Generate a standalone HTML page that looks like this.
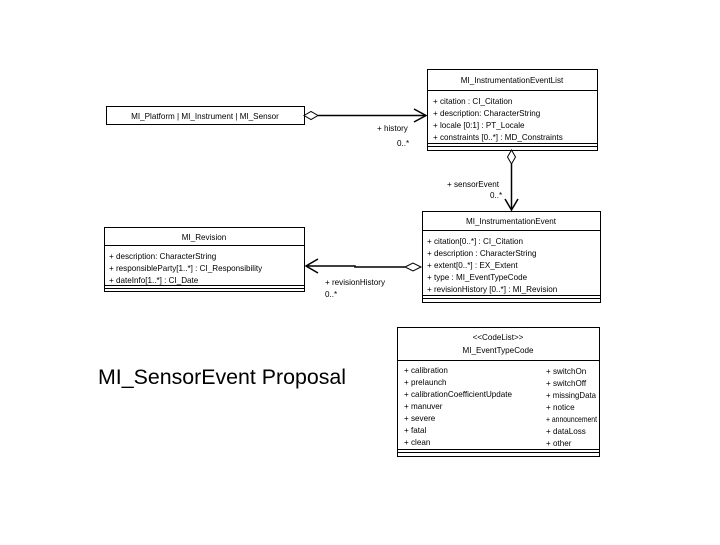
<!DOCTYPE html>
<html><head><style>
body{margin:0;background:#fff;width:720px;height:540px;overflow:hidden;font-family:"Liberation Sans",sans-serif;}
</style></head><body>
<svg width="720" height="540" xmlns="http://www.w3.org/2000/svg" font-family="Liberation Sans, sans-serif" font-size="8.1" fill="#000">
<g stroke="#000" stroke-width="1" fill="#fff">
<rect x="427.5" y="69.5" width="170" height="81"/>
<line x1="427" y1="90.5" x2="597" y2="90.5"/>
<line x1="427" y1="143.5" x2="597" y2="143.5"/>
<line x1="427" y1="146.5" x2="597" y2="146.5"/>
<rect x="106.5" y="106.5" width="198" height="18"/>
<rect x="422.5" y="211.5" width="178" height="91"/>
<line x1="422" y1="230.5" x2="600" y2="230.5"/>
<line x1="422" y1="295.5" x2="600" y2="295.5"/>
<line x1="422" y1="298.5" x2="600" y2="298.5"/>
<rect x="104.5" y="227.5" width="200" height="64"/>
<line x1="104" y1="245.5" x2="304" y2="245.5"/>
<line x1="104" y1="285.5" x2="304" y2="285.5"/>
<line x1="104" y1="288.5" x2="304" y2="288.5"/>
<rect x="397.5" y="327.5" width="202" height="129"/>
<line x1="397" y1="360.5" x2="599" y2="360.5"/>
<line x1="397" y1="449.5" x2="599" y2="449.5"/>
<line x1="397" y1="452.5" x2="599" y2="452.5"/>
<line x1="318" y1="115.5" x2="426" y2="115.5" stroke-width="1.5"/>
<polygon points="304,115.5 311,111.5 318,115.5 311,119.5"/>
<polyline points="414,109 426,115.5 414,122" fill="none" stroke-width="1.5"/>
<line x1="511.5" y1="164" x2="511.5" y2="210" stroke-width="1.5"/>
<polygon points="511.5,150 515.5,157 511.5,164 507.5,157"/>
<polyline points="505,199 511.5,210 518,199" fill="none" stroke-width="1.5"/>
<polyline points="405,267 355,267 355,266 306,266" fill="none" stroke-width="1.5"/>
<polygon points="405,267 413,263 421,267 413,271"/>
<polyline points="318,259 306,266 318,273" fill="none" stroke-width="1.5"/>
</g>
<g text-anchor="middle">
<text x="512" y="83">MI_InstrumentationEventList</text>
<text x="205" y="119">MI_Platform | MI_Instrument | MI_Sensor</text>
<text x="511" y="224">MI_InstrumentationEvent</text>
<text x="204" y="240">MI_Revision</text>
<text x="498" y="340">&lt;&lt;CodeList&gt;&gt;</text>
<text x="498" y="353">MI_EventTypeCode</text>
</g>
<text x="433" y="104">+ citation : CI_Citation</text>
<text x="433" y="116">+ description: CharacterString</text>
<text x="433" y="128">+ locale [0:1] : PT_Locale</text>
<text x="433" y="140">+ constraints [0..*] : MD_Constraints</text>
<text x="377" y="131">+ history</text>
<text x="397" y="146">0..*</text>
<text x="447" y="187">+ sensorEvent</text>
<text x="490" y="198">0..*</text>
<text x="427" y="244">+ citation[0..*] : CI_Citation</text>
<text x="427" y="256">+ description : CharacterString</text>
<text x="427" y="268">+ extent[0..*] : EX_Extent</text>
<text x="427" y="280">+ type : MI_EventTypeCode</text>
<text x="427" y="292">+ revisionHistory [0..*] : MI_Revision</text>
<text x="109" y="259">+ description: CharacterString</text>
<text x="109" y="271">+ responsibleParty[1..*] : CI_Responsibility</text>
<text x="109" y="283">+ dateInfo[1..*] : CI_Date</text>
<text x="325" y="285">+ revisionHistory</text>
<text x="325" y="297">0..*</text>
<g>
<text x="404" y="373">+ calibration</text>
<text x="404" y="385">+ prelaunch</text>
<text x="404" y="397">+ calibrationCoefficientUpdate</text>
<text x="404" y="409">+ manuver</text>
<text x="404" y="421">+ severe</text>
<text x="404" y="433">+ fatal</text>
<text x="404" y="445">+ clean</text>
<text x="546" y="374">+ switchOn</text>
<text x="546" y="386">+ switchOff</text>
<text x="546" y="398" textLength="50" lengthAdjust="spacingAndGlyphs">+ missingData</text>
<text x="546" y="410">+ notice</text>
<text x="546" y="422" textLength="51" lengthAdjust="spacingAndGlyphs">+ announcement</text>
<text x="546" y="434">+ dataLoss</text>
<text x="546" y="446">+ other</text>
</g>
<text x="98" y="384" font-size="21" textLength="248" lengthAdjust="spacingAndGlyphs">MI_SensorEvent Proposal</text>
</svg>
</body></html>
